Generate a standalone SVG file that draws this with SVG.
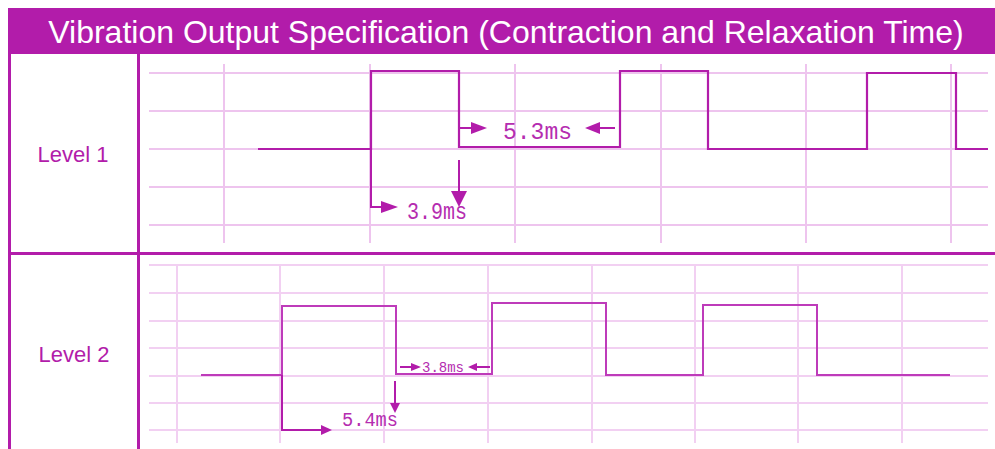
<svg xmlns="http://www.w3.org/2000/svg" width="995" height="449" viewBox="0 0 995 449">
<style>
.grid1{stroke:#EEC4EE;stroke-width:2;fill:none}
.grid2{stroke:#F2D0F2;stroke-width:2;fill:none}
.wave1{stroke:#B21CAA;stroke-width:2.2;fill:none}
.wave2{stroke:#BE3BBA;stroke-width:2;fill:none}
.border{stroke:#B21CAA;stroke-width:3;fill:none}
.arrow{stroke:#B21CAA;stroke-width:2;fill:none}
.head{fill:#B21CAA}
.lbl{font-family:"Liberation Sans",Arial,sans-serif;fill:#B21CAA;font-size:22px;text-anchor:middle}
.mono{font-family:"Liberation Mono","DejaVu Sans Mono",monospace;fill:#B52DB0}
</style>
<rect width="995" height="449" fill="#FFFFFF"/>
<g id="title">
<rect x="8" y="8" width="987" height="46" fill="#B21CAA"/>
<text x="506" y="43" font-family="'Liberation Sans',Arial,sans-serif" font-size="32" fill="#FFFFFF" text-anchor="middle">Vibration Output Specification (Contraction and Relaxation Time)</text>
</g>
<g id="table">
<line class="border" x1="9.5" y1="54" x2="9.5" y2="449"/>
<line class="border" x1="138.5" y1="54" x2="138.5" y2="449"/>
<line class="border" x1="8" y1="253.5" x2="995" y2="253.5"/>
</g>
<g id="label-level1"><text class="lbl" x="73" y="162">Level 1</text></g>
<g id="label-level2"><text class="lbl" x="74" y="362">Level 2</text></g>
<g id="grid-level1">
<path class="grid1" d="M149,73H988M149,111H988M149,149H988M149,187H988M149,225H988M224,64V243M370,64V243M515,64V243M661,64V243M806,64V243M951,64V243"/>
</g>
<g id="grid-level2">
<path class="grid2" d="M149,265H988M149,293H988M149,321H988M149,348H988M149,376H988M149,403H988M149,430H988M177,264V443M280,264V443M384,264V443M488,264V443M592,264V443M695,264V443M798,264V443M902,264V443"/>
</g>
<g id="wave-level1">
<path class="wave1" d="M258,149H371V71H459V147H620V71H708V149H867V73H956V149H988"/>
</g>
<g id="wave-level2">
<path class="wave2" d="M201,375H282V306H396V374H492V303H606V375H703V305H817V375H950"/>
</g>
<g id="connectors">
<path class="arrow" d="M371,149V207H382"/>
<polygon class="head" points="381,201 398,207 381,213"/>
<path class="arrow" d="M459,160V192"/>
<polygon class="head" points="451,191 467,191 459,207"/>
<path class="arrow" d="M459,128H472"/>
<polygon class="head" points="471,122 487,128 471,134"/>
<path class="arrow" d="M599,128H615"/>
<polygon class="head" points="600,122 585,128 600,134"/>
<path class="arrow" d="M282,375V430H322"/>
<polygon class="head" points="321,425 332,430 321,435"/>
<path class="arrow" d="M395,381V404"/>
<polygon class="head" points="390,403 400,403 395,413"/>
<path class="arrow" d="M400,367H412"/>
<polygon class="head" points="411,363 421,367 411,371"/>
<path class="arrow" d="M476,367H490"/>
<polygon class="head" points="477,363 468,367 477,371"/>
</g>
<g id="annotations">
<text class="mono" x="503" y="139" font-size="24" textLength="69" lengthAdjust="spacingAndGlyphs">5.3ms</text>
<text class="mono" x="407" y="219" font-size="23" textLength="60" lengthAdjust="spacingAndGlyphs">3.9ms</text>
<text class="mono" x="342" y="426" font-size="20" textLength="56" lengthAdjust="spacingAndGlyphs">5.4ms</text>
<text class="mono" x="422" y="372" font-size="14" textLength="42" lengthAdjust="spacingAndGlyphs">3.8ms</text>
</g>
</svg>
